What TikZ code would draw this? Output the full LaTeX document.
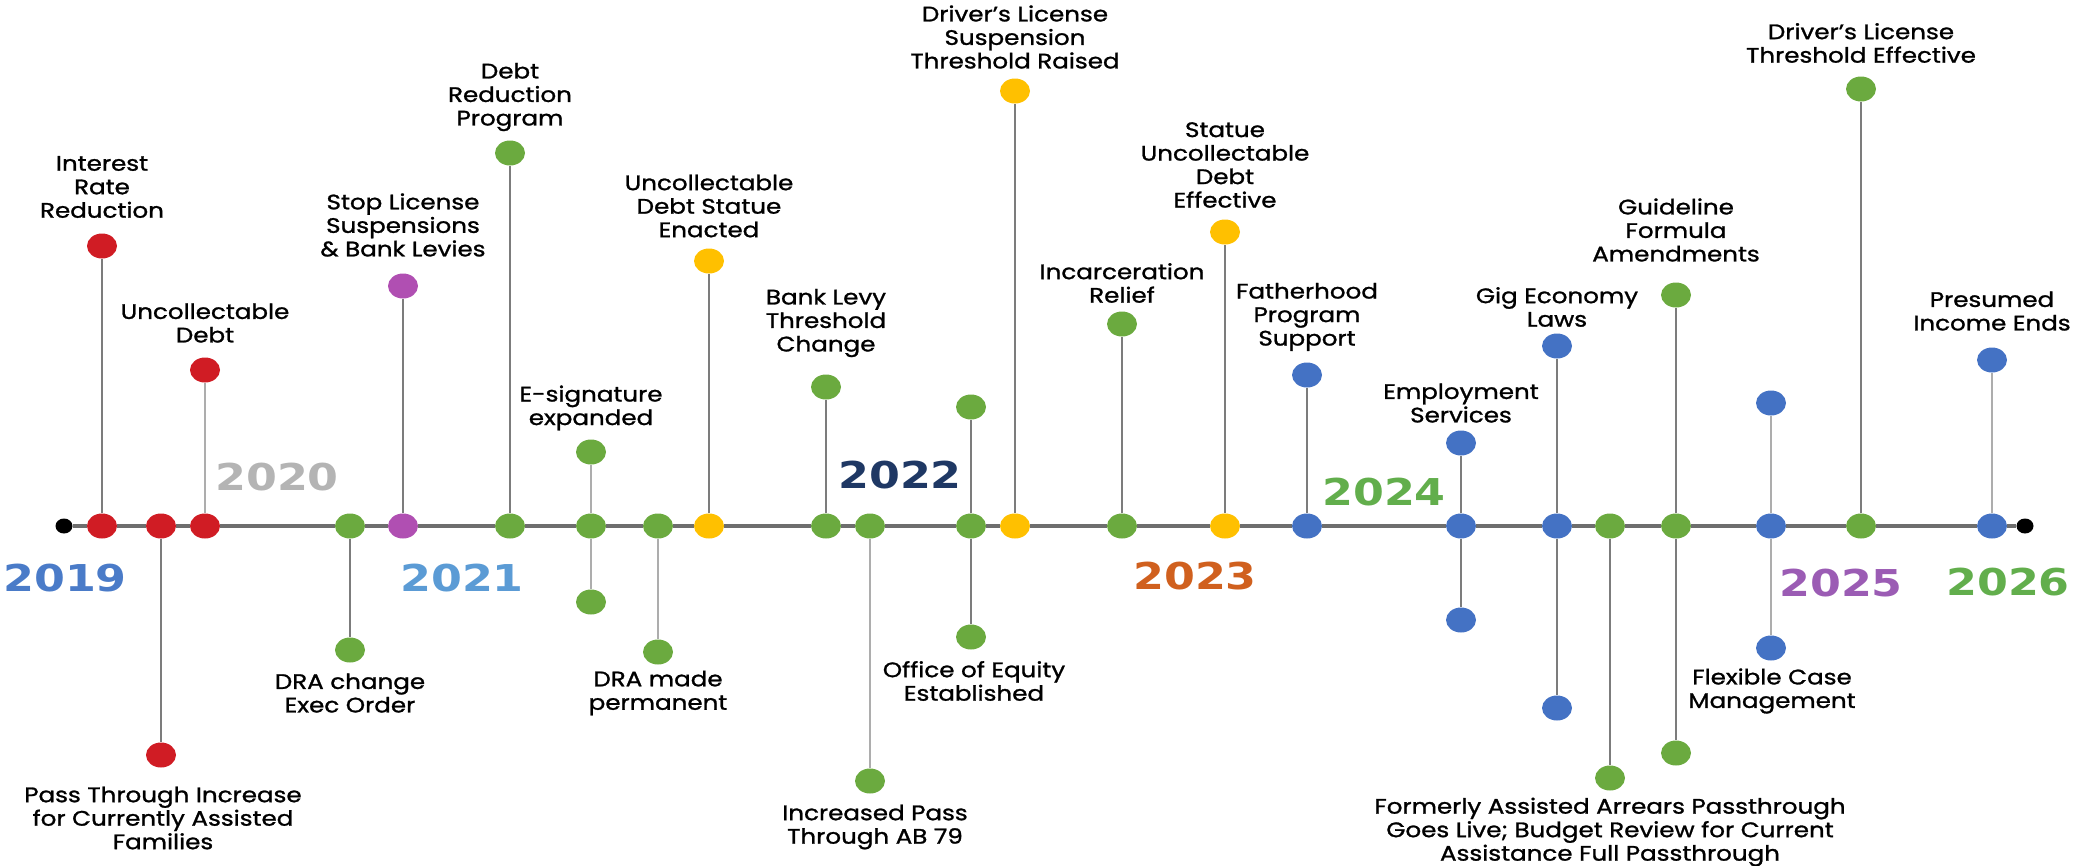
\documentclass[tikz,border=0pt]{standalone}
\usepackage{fontspec}
\setmainfont{Poppins}[FakeStretch=1.17, FakeBold=1.2]
\newfontfamily\yearfont{DejaVu Sans}
\usetikzlibrary{positioning,shapes.geometric}
\definecolor{evred}{HTML}{D01C24}
\definecolor{evgreen}{HTML}{6BAA3F}
\definecolor{evyellow}{HTML}{FFC000}
\definecolor{evblue}{HTML}{4472C4}
\definecolor{evmagenta}{HTML}{B04FB2}
\definecolor{axisgray}{HTML}{6E6E6E}
\definecolor{stemgray}{HTML}{7C7C7C}
\definecolor{stemlight}{HTML}{ADADAD}
\definecolor{yrblue}{HTML}{4A7BC8}
\definecolor{yrgray}{HTML}{B4B4B4}
\definecolor{yrsky}{HTML}{5B9BD5}
\definecolor{yrnavy}{HTML}{1F3864}
\definecolor{yrorange}{HTML}{D0601E}
\definecolor{yrgreen}{HTML}{62AE4C}
\definecolor{yrpurple}{HTML}{9B5CB4}
\newcommand{\yeartext}[1]{\scalebox{1.2}[1]{#1}}
\tikzset{
  evdot/.style={ellipse, minimum width=30pt, minimum height=25pt, inner sep=0pt},
  reddot/.style={evdot, fill=evred},
  greendot/.style={evdot, fill=evgreen},
  yellowdot/.style={evdot, fill=evyellow},
  bluedot/.style={evdot, fill=evblue},
  magentadot/.style={evdot, fill=evmagenta},
  endcap/.style={ellipse, fill=black, minimum width=17pt, minimum height=15pt, inner sep=0pt},
  axisline/.style={line width=4pt, draw=axisgray},
  stem/.style={line width=2.5pt, draw=stemgray},
  lightstem/.style={stem, draw=stemlight},
  evlabel/.style={align=center, font=\fontsize{21}{23.5}\selectfont, inner sep=0pt},
  yearlabel/.style={font=\yearfont\bfseries\fontsize{37}{40}\selectfont, inner sep=0pt},
}

\begin{document}
\begin{tikzpicture}[x=1pt, y=-1pt]
  \useasboundingbox (0,0) rectangle (2079,865);
  % axis dots
  \node[endcap] (s) at (64,526) {};
  \node[reddot] (a1) at (102,526) {};
  \node[reddot] (a2) at (161,526) {};
  \node[reddot] (a3) at (205,526) {};
  \node[greendot] (a5) at (350,526) {};
  \node[magentadot] (a7) at (403,526) {};
  \node[greendot] (a9) at (510,526) {};
  \node[greendot] (a10) at (591,526) {};
  \node[greendot] (a11) at (658,526) {};
  \node[yellowdot] (a12) at (709,526) {};
  \node[greendot] (a13) at (826,526) {};
  \node[greendot] (a14) at (870,526) {};
  \node[greendot] (a16) at (971,526) {};
  \node[yellowdot] (a17) at (1015,526) {};
  \node[greendot] (a18) at (1122,526) {};
  \node[yellowdot] (a20) at (1225,526) {};
  \node[bluedot] (a21) at (1307,526) {};
  \node[bluedot] (a23) at (1461,526) {};
  \node[bluedot] (a24) at (1557,526) {};
  \node[greendot] (a25) at (1610,526) {};
  \node[greendot] (a26) at (1676,526) {};
  \node[bluedot] (a27) at (1771,526) {};
  \node[greendot] (a29) at (1861,526) {};
  \node[bluedot] (a30) at (1992,526) {};
  \node[endcap] (e) at (2025,526) {};
  \draw[axisline] (s) -- (a1) -- (a2) -- (a3) -- (a5) -- (a7) -- (a9) -- (a10) -- (a11) -- (a12)
    -- (a13) -- (a14) -- (a16) -- (a17) -- (a18) -- (a20) -- (a21) -- (a23) -- (a24) -- (a25)
    -- (a26) -- (a27) -- (a29) -- (a30) -- (e);

  % stem ends
  \node[reddot] (t1) at (102,246) {};
  \node[reddot] (b2) at (161,755) {};
  \node[reddot] (t3) at (205,370) {};
  \node[greendot] (b5) at (350,650) {};
  \node[magentadot] (t7) at (403,286) {};
  \node[greendot] (t9) at (510,153) {};
  \node[greendot] (t10) at (591,452) {};
  \node[greendot] (b10) at (591,602) {};
  \node[greendot] (b11) at (658,652) {};
  \node[yellowdot] (t12) at (709,261) {};
  \node[greendot] (t13) at (826,387) {};
  \node[greendot] (b14) at (870,781) {};
  \node[greendot] (t16) at (971,407) {};
  \node[greendot] (b16) at (971,637) {};
  \node[yellowdot] (t17) at (1015,91) {};
  \node[greendot] (t18) at (1122,324) {};
  \node[yellowdot] (t20) at (1225,232) {};
  \node[bluedot] (t21) at (1307,375) {};
  \node[bluedot] (t23) at (1461,443) {};
  \node[bluedot] (b23) at (1461,620) {};
  \node[bluedot] (t24) at (1557,346) {};
  \node[bluedot] (b24) at (1557,708) {};
  \node[greendot] (b25) at (1610,778) {};
  \node[greendot] (t26) at (1676,295) {};
  \node[greendot] (b26) at (1676,753) {};
  \node[bluedot] (t27) at (1771,403) {};
  \node[bluedot] (b27) at (1771,648) {};
  \node[greendot] (t29) at (1861,89) {};
  \node[bluedot] (t30) at (1992,360) {};

  \draw[stem] (a1) -- (t1);
  \draw[stem] (a2) -- (b2);
  \draw[lightstem] (a3) -- (t3);
  \draw[stem] (a5) -- (b5);
  \draw[stem] (a7) -- (t7);
  \draw[stem] (a9) -- (t9);
  \draw[lightstem] (a10) -- (t10);
  \draw[lightstem] (a10) -- (b10);
  \draw[lightstem] (a11) -- (b11);
  \draw[stem] (a12) -- (t12);
  \draw[stem] (a13) -- (t13);
  \draw[lightstem] (a14) -- (b14);
  \draw[stem] (a16) -- (t16);
  \draw[stem] (a16) -- (b16);
  \draw[stem] (a17) -- (t17);
  \draw[stem] (a18) -- (t18);
  \draw[stem] (a20) -- (t20);
  \draw[stem] (a21) -- (t21);
  \draw[stem] (a23) -- (t23);
  \draw[stem] (a23) -- (b23);
  \draw[stem] (a24) -- (t24);
  \draw[stem] (a24) -- (b24);
  \draw[stem] (a25) -- (b25);
  \draw[stem] (a26) -- (t26);
  \draw[stem] (a26) -- (b26);
  \draw[lightstem] (a27) -- (t27);
  \draw[lightstem] (a27) -- (b27);
  \draw[stem] (a29) -- (t29);
  \draw[lightstem] (a30) -- (t30);

  % event labels
  \node[evlabel] (l1) at (102,187) {Interest\\Rate\\Reduction};
  \node[evlabel] (l2) at (163,818) {Pass Through Increase\\for Currently Assisted\\Families};
  \node[evlabel] (l3) at (205,323) {Uncollectable\\Debt};
  \node[evlabel] (l5) at (350,693) {DRA change\\Exec Order};
  \node[evlabel] (l7) at (403,225) {Stop License\\Suspensions\\\& Bank Levies};
  \node[evlabel] (l9) at (510,97) {Debt\\Reduction\\Program};
  \node[evlabel] (l10) at (591,408) {E-signature\\expanded};
  \node[evlabel] (l11) at (658,693) {DRA made\\permanent};
  \node[evlabel] (l12) at (709,206) {Uncollectable\\Debt Statue\\Enacted};
  \node[evlabel] (l13) at (826,323) {Bank Levy\\Threshold\\Change};
  \node[evlabel] (l14) at (875,827) {Increased Pass\\Through AB 79};
  \node[evlabel] (l16) at (974,681) {Office of Equity\\Established};
  \node[evlabel] (l17) at (1015,37) {Driver’s License\\Suspension\\Threshold Raised};
  \node[evlabel] (l18) at (1122,283) {Incarceration\\Relief};
  \node[evlabel] (l20) at (1225,165) {Statue\\Uncollectable\\Debt\\Effective};
  \node[evlabel] (l21) at (1307,317) {Fatherhood\\Program\\Support};
  \node[evlabel] (l23) at (1461,403) {Employment\\Services};
  \node[evlabel] (l24) at (1557,307) {Gig Economy\\Laws};
  \node[evlabel] (l25) at (1610,832) {Formerly Assisted Arrears Passthrough\\Goes Live; Budget Review for Current\\Assistance Full Passthrough};
  \node[evlabel] (l26) at (1676,230) {Guideline\\Formula\\Amendments};
  \node[evlabel] (l27) at (1772,691) {Flexible Case\\Management};
  \node[evlabel] (l29) at (1861,43) {Driver’s License\\Threshold Effective};
  \node[evlabel] (l30) at (1992,311) {Presumed\\Income Ends};

  % years
  \node[yearlabel, text=yrblue] (y2019) at (65,578) {\yeartext{2019}};
  \node[yearlabel, text=yrgray] (y2020) at (277,477) {\yeartext{2020}};
  \node[yearlabel, text=yrsky] (y2021) at (462,578) {\yeartext{2021}};
  \node[yearlabel, text=yrnavy] (y2022) at (900,475) {\yeartext{2022}};
  \node[yearlabel, text=yrorange] (y2023) at (1195,576) {\yeartext{2023}};
  \node[yearlabel, text=yrgreen] (y2024) at (1384,492) {\yeartext{2024}};
  \node[yearlabel, text=yrpurple] (y2025) at (1841,583) {\yeartext{2025}};
  \node[yearlabel, text=yrgreen] (y2026) at (2008,582) {\yeartext{2026}};
\end{tikzpicture}
\end{document}
